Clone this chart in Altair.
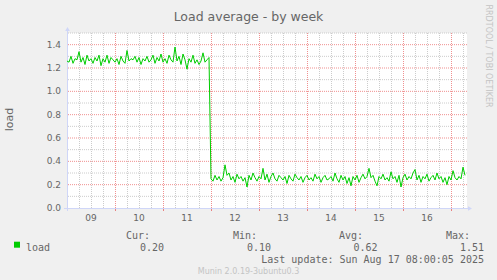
import altair as alt
import pandas as pd

# ---- data (hourly samples, hour 0 = Sat Aug 09 00:00) ----
load_before = [
    1.26, 1.25, 1.30, 1.24, 1.28, 1.27, 1.34, 1.25, 1.29, 1.23, 1.31, 1.26,
    1.28, 1.24, 1.29, 1.26, 1.31, 1.22, 1.28, 1.25, 1.31, 1.24, 1.29, 1.27,
    1.25, 1.28, 1.23, 1.30, 1.26, 1.24, 1.35, 1.26, 1.28, 1.27, 1.30, 1.25,
    1.29, 1.23, 1.28, 1.26, 1.30, 1.25, 1.27, 1.31, 1.24, 1.29, 1.26, 1.32,
    1.25, 1.28, 1.24, 1.31, 1.27, 1.25, 1.38, 1.26, 1.30, 1.23, 1.32, 1.27,
    1.19, 1.28, 1.25, 1.31, 1.24, 1.27, 1.23, 1.26, 1.33, 1.25, 1.27, 1.29,
]
load_after = [
    0.25, 0.23, 0.28, 0.24, 0.27, 0.23, 0.26, 0.37, 0.28, 0.30, 0.24, 0.27,
    0.22, 0.29, 0.25, 0.27, 0.23, 0.26, 0.18, 0.28, 0.24, 0.30, 0.26, 0.23,
    0.27, 0.25, 0.34, 0.24, 0.29, 0.22, 0.27, 0.30, 0.25, 0.23, 0.28, 0.26,
    0.24, 0.27, 0.21, 0.28, 0.25, 0.23, 0.29, 0.26, 0.24, 0.27, 0.22, 0.26,
    0.28, 0.24, 0.26, 0.23, 0.29, 0.25, 0.27, 0.22, 0.26, 0.28, 0.24, 0.25,
    0.27, 0.23, 0.30, 0.25, 0.22, 0.28, 0.24, 0.27, 0.21, 0.26, 0.19, 0.27,
    0.24, 0.28, 0.22, 0.26, 0.29, 0.25, 0.27, 0.34, 0.26, 0.28, 0.23, 0.19,
    0.27, 0.25, 0.29, 0.24, 0.26, 0.23, 0.31, 0.25, 0.27, 0.22, 0.28, 0.18,
    0.26, 0.29, 0.24, 0.27, 0.25, 0.30, 0.33, 0.24, 0.28, 0.22, 0.27, 0.25,
    0.29, 0.23, 0.26, 0.28, 0.24, 0.30, 0.25, 0.27, 0.22, 0.26, 0.20, 0.27,
    0.24, 0.32, 0.26, 0.24, 0.27, 0.25, 0.35, 0.28,
]
loads = load_before + load_after
hours = list(range(len(loads)))

day_labels = ["09", "10", "11", "12", "13", "14", "15", "16"]
label_hours = [12 + 24 * i for i in range(len(day_labels))]
major_x = [24 * i for i in range(1, 9)]
minor_x = [h for h in range(6, 200, 6) if h % 24]
y_ticks = [0.0, 0.2, 0.4, 0.6, 0.8, 1.0, 1.2, 1.4]
y_tick_labels = ["0.0", "0.2", "0.4", "0.6", "0.8", "1.0", "1.2", "1.4"]
major_y = [0.2, 0.4, 0.6, 0.8, 1.0, 1.2, 1.4]
minor_y = [0.1, 0.3, 0.5, 0.7, 0.9, 1.1, 1.3, 1.5]

title_text = "Load average - by week"
y_title = "load"
watermark = "RRDTOOL / TOBI OETIKER"
legend_name = "load"
stat_names = ["Cur:", "Min:", "Avg:", "Max:"]
stat_values = ["0.20", "0.10", "0.62", "1.51"]
last_update = "Last update: Sun Aug 17 08:00:05 2025"
version = "Munin 2.0.19-3ubuntu0.3"

W, H = 400, 175
OX, OY = 67, 33
FONT_COL = "#666666"
AXIS_COL = "#CFD6F8"

df = pd.DataFrame({"hour": hours, "load": loads})
xscale = alt.Scale(domain=[0, 200], nice=False, zero=False)
yscale = alt.Scale(domain=[0, 1.5], nice=False, zero=True)


def vrules(vals, color):
    return alt.Chart(pd.DataFrame({"gx": vals})).mark_rule(
        color=color, strokeDash=[1, 1], strokeWidth=1, xOffset=0.5
    ).encode(
        x=alt.X("gx:Q", scale=xscale, axis=None),
    )


def hrules(vals, color):
    return alt.Chart(pd.DataFrame({"gy": vals})).mark_rule(
        color=color, strokeDash=[1, 1], strokeWidth=1
    ).encode(
        y=alt.Y("gy:Q", scale=yscale, axis=None),
    )


def txt(s, x, y, **kw):
    return alt.Chart(pd.DataFrame({"t": [s]})).mark_text(**kw).encode(
        x=alt.value(x - OX), y=alt.value(y - OY), text="t:N"
    )


main = alt.Chart(df).mark_line(color="#00CC00", strokeWidth=1).encode(
    x=alt.X("hour:Q", scale=xscale, axis=None),
    y=alt.Y("load:Q", scale=yscale, axis=None),
)

x_labels = alt.Chart(pd.DataFrame({"h": label_hours, "lab": day_labels})).mark_text(
    font="DejaVu Sans", fontSize=9, color=FONT_COL, baseline="middle", align="center"
).encode(
    x=alt.X("h:Q", scale=xscale, axis=None), y=alt.value(H + 9.5), text="lab:N"
)
y_labels = alt.Chart(pd.DataFrame({"v": y_ticks, "lab": y_tick_labels})).mark_text(
    font="DejaVu Sans", fontSize=9, color=FONT_COL, baseline="middle", align="right"
).encode(
    y=alt.Y("v:Q", scale=yscale, axis=None), x=alt.value(-6), text="lab:N"
)

minor_v = vrules(minor_x, "#CCCCCC")
minor_h = hrules(minor_y, "#CCCCCC")
major_v = vrules(major_x, "#F09090")
major_h = hrules(major_y, "#F09090")

red_ticks = alt.Chart(pd.DataFrame({"gx": major_x})).mark_rule(
    color="#E88080", xOffset=0.5
).encode(x=alt.X("gx:Q", scale=xscale, axis=None), y=alt.value(H), y2=alt.value(H + 3))

one = pd.DataFrame({"k": [0]})
axis_v = alt.Chart(one).mark_rule(color=AXIS_COL, xOffset=0.5).encode(
    x=alt.value(0), y=alt.value(-3), y2=alt.value(H + 3))
axis_h = alt.Chart(one).mark_rule(color=AXIS_COL, yOffset=0.5).encode(
    y=alt.value(H), x=alt.value(-3), x2=alt.value(W + 1))
arrow_up = alt.Chart(one).mark_point(shape="triangle-up", filled=True, size=22,
                                     color=AXIS_COL, opacity=1).encode(
    x=alt.value(0.5), y=alt.value(-4))
arrow_right = alt.Chart(one).mark_point(shape="triangle-right", filled=True, size=22,
                                        color=AXIS_COL, opacity=1).encode(
    x=alt.value(W + 3), y=alt.value(H + 0.5))

legend_box = alt.Chart(one).mark_rect(color="#00CC00").encode(
    x=alt.value(14 - OX), x2=alt.value(20 - OX), y=alt.value(241.7 - OY), y2=alt.value(247.7 - OY))

mono = dict(font="DejaVu Sans Mono", fontSize=10, color=FONT_COL)
texts = [
    txt(title_text, 248.5, 17, font="DejaVu Sans", fontSize=12.5, color=FONT_COL, align="center"),
    txt(y_title, 10, 119.5, font="DejaVu Sans", fontSize=11, color=FONT_COL, align="center",
        baseline="middle", angle=270),
    txt(watermark, 487.5, 56, font="DejaVu Sans", fontSize=8, color="#C4C4C4", align="center",
        baseline="middle", angle=90),
    txt(legend_name, 26, 248, align="left", **mono),
    txt(last_update, 484, 260, align="right", **mono),
    txt(version, 248.5, 271.5, font="DejaVu Sans", fontSize=8, color="#C4C4C4", align="center"),
]
name_right = [150, 257, 363, 470]
val_right = [164, 271, 377.5, 484]
for n, v, nr, vr in zip(stat_names, stat_values, name_right, val_right):
    texts.append(txt(n, nr, 236, align="right", **mono))
    texts.append(txt(v, vr, 248, align="right", **mono))

chart = alt.layer(
    minor_v, minor_h, major_v, major_h, red_ticks,
    axis_v, axis_h, arrow_up, arrow_right,
    main, x_labels, y_labels, legend_box, *texts
).properties(
    width=W, height=H,
    autosize=alt.AutoSizeParams(type="none"),
    padding={"left": OX, "top": OY, "right": 497 - OX - W, "bottom": 280 - OY - H},
    background="#F0F0F0",
).configure_view(fill="white", stroke=None)

chart.save("out.html", embed_options={"renderer": "svg", "actions": False})
